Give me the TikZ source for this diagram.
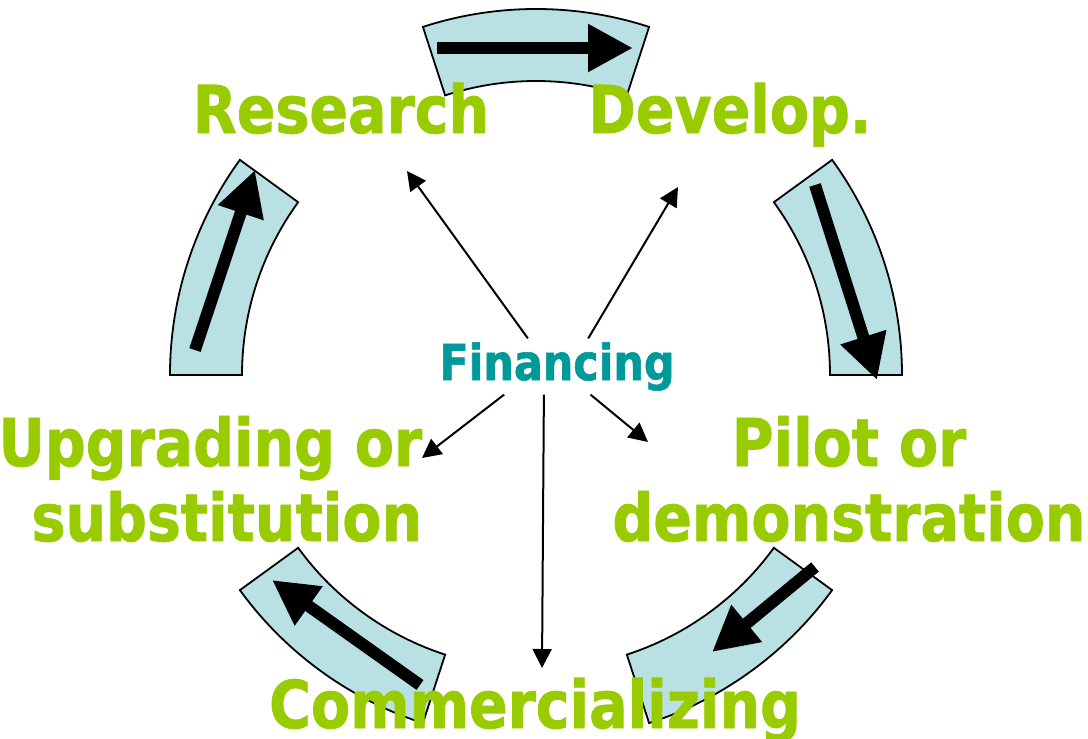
\documentclass[tikz,border=0pt]{standalone}
\usepackage{fontspec}
\setmainfont{DejaVu Sans}[FakeStretch=0.864,BoldFeatures={FakeBold=1.2}]
\usetikzlibrary{arrows.meta}
\definecolor{stagegreen}{HTML}{99CC00}
\definecolor{fincolor}{HTML}{009999}
\definecolor{ringblue}{HTML}{B9E0E3}

\begin{document}
\begin{tikzpicture}[x=0.5pt,y=-0.5pt,line width=0.9pt,
		ring/.style={draw=black,fill=ringblue},
		bigarrow/.style={line width=6pt,-{Triangle[length=22.5pt,width=22.5pt]}},
		finarrow/.style={line width=1pt,-{Triangle[length=9.5pt,width=9.5pt]}},
		stage/.style={text=stagegreen,inner sep=0pt,font=\fontsize{33}{37.5}\selectfont\bfseries}]
				\useasboundingbox (0,0) rectangle (1088,739);
				\begin{scope}[shift={(536,375)}]
					\foreach \a in {-108,-36,...,180}
						\draw[ring] (\a:366) arc[start angle=\a,end angle=\a+36,radius=366] -- (\a+36:294) arc[start angle=\a+36,end angle=\a,radius=294] -- cycle;
				\end{scope}
				\draw[bigarrow] (437,48) -- (633,48);
				\draw[bigarrow] (815,185) -- (877,380);
				\draw[bigarrow] (815,567) -- (712,652);
				\draw[bigarrow] (420,685) -- (272,580);
				\draw[bigarrow] (195,350) -- (255,170);
				\node[stage,anchor=base] (res) at (341,133) {Research};
				\node[stage,anchor=base] (dev) at (730,133) {Develop.};
				\node[stage,anchor=north,align=center] (pil) at (849,415) {Pilot or\\demonstration};
				\node[stage,anchor=base] (com) at (535,728) {Commercializing};
				\node[stage,anchor=north east,align=right] (upg) at (423,415) {Upgrading or\\substitution};
				\node[anchor=base,inner sep=1.5pt,text=fincolor,font=\fontsize{24.8}{30}\selectfont\bfseries] (fin) at (557,380) {Financing};
				\coordinate (tres) at (407,171);
				\coordinate (tdev) at (678,187);
				\coordinate (tpil) at (648,442);
				\coordinate (tupg) at (422,458);
				\coordinate (tcom) at (542,668);
				\draw[finarrow] (fin.136) -- (tres);
				\draw[finarrow] (fin.42) -- (tdev);
				\draw[finarrow] (fin.-40) -- (tpil);
				\draw[finarrow] (fin.208) -- (tupg);
				\draw[finarrow] (fin.245) -- (tcom);
			\end{tikzpicture}
\end{document}
